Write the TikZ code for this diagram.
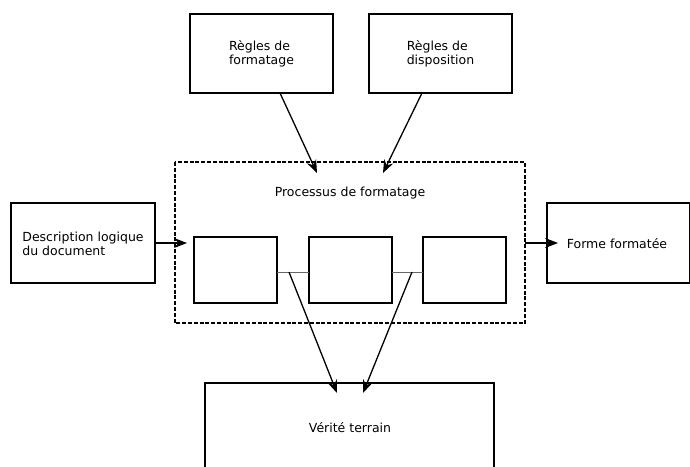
\documentclass[tikz,border=0pt]{standalone}
\usepackage{fontspec}
\setmainfont{DejaVu Sans}
\usetikzlibrary{arrows.meta}
\begin{document}
\begin{tikzpicture}[x=1pt,y=-1pt,
  box/.style={draw=black,line width=2pt,fill=white},
  inner/.style={draw=black,line width=1.6pt},
  arr/.style={line width=1.3pt,-{Stealth[length=13pt,width=10pt,inset=4.5pt]}},
  link/.style={draw=black!60,line width=1pt},
  lbl/.style={font=\fontsize{12.5}{14.5}\selectfont,align=left,inner sep=0pt}]
\useasboundingbox (0,0) rectangle (690,466);
\clip (0,0) rectangle (690,466);
% top boxes
\draw[box] (190,14) rectangle (333,93);
\node[lbl] (t1) at (261.5,54) {Règles de\\formatage};
\draw[box] (369,14) rectangle (512,93);
\node[lbl] (t2) at (440.5,54) {Règles de\\disposition};
% dashed process box
\draw[line width=1.4pt,dash pattern=on 4pt off 1.8pt] (175,162) rectangle (525,323);
\node[lbl] (proc) at (350,193) {Processus de formatage};
% inner boxes
\draw[inner] (194,237) rectangle (277,303);
\draw[inner] (309,237) rectangle (392,303);
\draw[inner] (423,237) rectangle (506,303);
\coordinate (ab) at (289,272);
\coordinate (bc) at (412,272);
\draw[link] (277,272) -- (309,272);
\draw[link] (392,272) -- (423,272);
% left box
\draw[box] (11,203) rectangle (155,283);
\node[lbl] (desc) at (83,244) {Description logique\\du document};
% right box
\draw[box] (547,203) rectangle (690,283);
\node[lbl] (forme) at (617,244) {Forme formatée};
% bottom box
\draw[box] (205,383) rectangle (494,520);
\node[lbl] (verite) at (350,428) {Vérité terrain};
% arrows
\coordinate (s1) at (280,93);
\coordinate (e1) at (317,173);
\coordinate (s2) at (422,93);
\coordinate (e2) at (383,173);
\draw[arr] (s1) -- (e1);
\draw[arr] (s2) -- (e2);
\coordinate (sl) at (155,243);
\coordinate (el) at (187,243);
\draw[arr] (sl) -- (el);
\coordinate (sr) at (525,243);
\coordinate (er) at (558,243);
\draw[arr] (sr) -- (er);
\coordinate (eb1) at (337,393);
\coordinate (eb2) at (363,393);
\draw[arr] (ab) -- (eb1);
\draw[arr] (bc) -- (eb2);
\end{tikzpicture}
\end{document}
